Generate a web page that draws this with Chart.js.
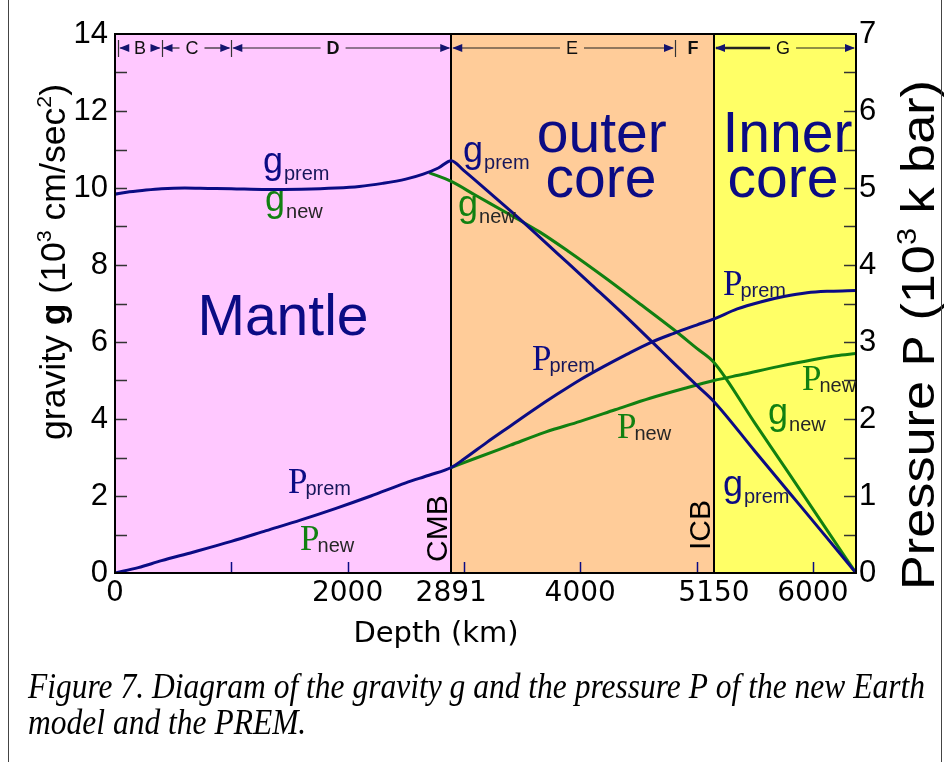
<!DOCTYPE html>
<html><head><meta charset="utf-8">
<script src="https://cdn.jsdelivr.net/npm/chart.js@4.4.0/dist/chart.umd.min.js"></script>
<style>html,body{margin:0;padding:0;background:#fff;}#wrap{width:951px;height:762px;position:relative;background:#fff}</style>
</head><body><div id="wrap"><canvas id="c" width="951" height="762"></canvas></div>
<script>
// ---------------- DATA ----------------
const gPremDepth = [0,100,250,400,600,800,1000,1300,1600,1900,2100,2300,2500,2650,2780,2891,3000,3200,3500,3800,4100,4400,4700,5000,5150,5500,5800,6100,6371];
const gPrem      = [9.84,9.89,9.94,9.98,10.00,9.99,9.98,9.96,9.97,10.00,10.04,10.12,10.23,10.36,10.52,10.71,10.45,9.93,9.14,8.31,7.48,6.64,5.76,4.88,4.45,3.17,2.08,0.99,0];

const gNewDepth  = [2700,2891,3100,3400,3650,3900,4200,4500,4800,5000,5150,5500,5800,6100,6371];
const gNew       = [10.40,10.17,9.81,9.30,8.86,8.35,7.70,7.02,6.33,5.84,5.47,3.90,2.56,1.21,0];

const pPremDepth = [0,200,400,670,1000,1300,1600,1900,2200,2500,2700,2891,3000,3200,3400,3600,3800,4000,4200,4400,4600,4800,5000,5150,5350,5550,5750,5950,6150,6371];
const pPrem      = [0,0.07,0.16,0.27,0.41,0.55,0.69,0.84,1.00,1.17,1.27,1.37,1.48,1.70,1.91,2.12,2.32,2.51,2.68,2.84,2.99,3.11,3.22,3.30,3.43,3.52,3.59,3.64,3.66,3.67];

const pNewDepth  = [2891,3100,3400,3700,4000,4300,4600,4900,5150,5400,5700,6000,6200,6371];
const pNew       = [1.37,1.49,1.66,1.83,1.97,2.12,2.27,2.40,2.50,2.58,2.68,2.77,2.82,2.85];

const xTickLabels = [0,2000,2891,4000,5150,6000];
const xMinorTicks = [1000,2000,3000,4000,5000,6000];
const depthMax = 6371;
const gMax = 14, pMax = 7;

const layers = [
  {name:'Mantle', from:0, to:2891},
  {name:'outer core', from:2891, to:5150},
  {name:'Inner core', from:5150, to:6371}
];
const zoneMarks = [28,400,1000,4815];
const zones = [
  {name:'B', from:28, to:400, at:215},
  {name:'C', from:400, to:1000, at:662},
  {name:'D', from:1000, to:2891, at:1875},
  {name:'E', from:2891, to:4815, at:3929},
  {name:'F', from:null, to:null, at:4969},
  {name:'G', from:5150, to:6371, at:5744}
];
// ---------------- STYLE ----------------
const BLUE = '#0b0b84', GREEN = '#118011';
const SANS = '"Liberation Sans", Arial, sans-serif';
const WIDE = '"DejaVu Sans", sans-serif';
const SERIF = '"Liberation Serif", "Times New Roman", serif';
const layerColors = ['#ffc8ff','#ffcc99','#ffff66'];

// series labels placed in data units (depth, gravity axis)
const seriesLabels = [
  {m:'g', s:'prem', c:BLUE, d:1272, v:10.38},
  {m:'g', s:'new',  c:GREEN, d:1290, v:9.41},
  {m:'g', s:'prem', c:BLUE, d:2992, v:10.67},
  {m:'g', s:'new',  c:GREEN, d:2949, v:9.27},
  {m:'P', s:'prem', c:BLUE, d:5227, v:7.22},
  {m:'P', s:'prem', c:BLUE, d:3585, v:5.27},
  {m:'P', s:'new',  c:GREEN, d:4316, v:3.50},
  {m:'P', s:'new',  c:GREEN, d:5907, v:4.75},
  {m:'g', s:'new',  c:GREEN, d:5615, v:3.88},
  {m:'g', s:'prem', c:BLUE, d:5227, v:2.01},
  {m:'P', s:'prem', c:BLUE, d:1487, v:2.07},
  {m:'P', s:'new',  c:GREEN, d:1591, v:0.59}
];
const bigTexts = [
  {t:'Mantle', d:1444, v:6.18},
  {t:'outer', d:4185, v:10.94},
  {t:'core', d:4179, v:9.77},
  {t:'Inner', d:5782, v:10.94},
  {t:'core', d:5743, v:9.77}
];

function pts(xs, ys){ return xs.map((x,i)=>({x:x, y:ys[i]})); }

function drawRich(ctx, pieces){
  let x = 0;
  pieces.forEach(p=>{
    ctx.font = p.f;
    ctx.fillText(p.t, x, p.dy||0);
    x += ctx.measureText(p.t).width;
  });
  return x;
}
function richWidth(ctx, pieces){
  let w=0; pieces.forEach(p=>{ctx.font=p.f; w+=ctx.measureText(p.t).width;}); return w;
}

const deco = {
  id:'deco',
  beforeDatasetsDraw(chart){
    const {ctx, chartArea:a, scales:{x, y}} = chart;
    ctx.save();
    layers.forEach((L,i)=>{
      const x0 = x.getPixelForValue(L.from), x1 = x.getPixelForValue(L.to);
      ctx.fillStyle = layerColors[i];
      ctx.fillRect(x0, a.top, x1-x0, a.bottom-a.top);
    });
    ctx.fillStyle = BLUE;
    ctx.font = '57px ' + SANS;
    ctx.textAlign = 'center';
    ctx.textBaseline = 'alphabetic';
    bigTexts.forEach(b=>ctx.fillText(b.t, x.getPixelForValue(b.d), y.getPixelForValue(b.v)));
    ctx.strokeStyle = '#000'; ctx.lineWidth = 2;
    [2891,5150].forEach(d=>{
      const px = Math.round(x.getPixelForValue(d));
      ctx.beginPath(); ctx.moveTo(px, a.top); ctx.lineTo(px, a.bottom); ctx.stroke();
    });
    ctx.fillStyle = '#000'; ctx.font = '30px ' + SANS; ctx.textAlign='left';
    [[2891,'CMB',11],[5150,'ICB',23]].forEach(([d,t,off])=>{
      ctx.save();
      ctx.translate(x.getPixelForValue(d)-4, a.bottom-off);
      ctx.rotate(-Math.PI/2);
      ctx.fillText(t,0,0);
      ctx.restore();
    });
    ctx.restore();
  },
  afterDatasetsDraw(chart){
    const {ctx, chartArea:a, scales:{x, y, y2}} = chart;
    ctx.save();
    ctx.lineWidth = 1.5;
    ctx.strokeStyle = '#333';
    for(let v=1; v<gMax; v++){
      const py = Math.round(y.getPixelForValue(v))+0.5;
      ctx.beginPath(); ctx.moveTo(a.left, py); ctx.lineTo(a.left+12, py); ctx.stroke();
    }
    for(let v=0.5; v<pMax; v+=0.5){
      const py = Math.round(y2.getPixelForValue(v))+0.5;
      ctx.beginPath(); ctx.moveTo(a.right-12, py); ctx.lineTo(a.right, py); ctx.stroke();
    }
    ctx.strokeStyle = BLUE;
    xMinorTicks.forEach(d=>{
      const px = Math.round(x.getPixelForValue(d))+0.5;
      ctx.beginPath(); ctx.moveTo(px, a.bottom-11); ctx.lineTo(px, a.bottom); ctx.stroke();
    });
    ctx.strokeStyle = '#000'; ctx.lineWidth = 2;
    ctx.strokeRect(a.left, a.top, a.right-a.left, a.bottom-a.top);
    const my = a.top + 14;
    ctx.strokeStyle = '#333'; ctx.lineWidth = 1.2;
    zoneMarks.forEach(d=>{
      const px = Math.round(x.getPixelForValue(d))+0.5;
      ctx.beginPath(); ctx.moveTo(px, my-8); ctx.lineTo(px, my+9); ctx.stroke();
    });
    function arrow(tip, dir){
      ctx.fillStyle = '#14146e';
      ctx.beginPath(); ctx.moveTo(tip, my); ctx.lineTo(tip - dir*10, my-4); ctx.lineTo(tip - dir*10, my+4); ctx.closePath(); ctx.fill();
    }
    ctx.textAlign='center'; ctx.textBaseline='middle';
    zones.forEach(z=>{
      ctx.font = ((z.name==='D'||z.name==='F')?'bold ':'') + '18px ' + SANS;
      const cx = x.getPixelForValue(z.at);
      ctx.fillStyle = '#111';
      ctx.fillText(z.name, cx, my+1);
      if(z.from===null) return;
      const w = ctx.measureText(z.name).width/2 + 6;
      const x0 = x.getPixelForValue(z.from), x1 = x.getPixelForValue(z.to);
      ctx.strokeStyle = '#222';
      ctx.lineWidth = z.name==='G' ? 2.5 : 1.2;
      ctx.beginPath(); ctx.moveTo(x0+2, my); ctx.lineTo(cx-w, my); ctx.stroke();
      ctx.lineWidth = 1.2;
      ctx.beginPath(); ctx.moveTo(cx+w, my); ctx.lineTo(x1-2, my); ctx.stroke();
      arrow(x0+1, -1); arrow(x1-1, 1);
    });
    ctx.textAlign='left'; ctx.textBaseline='alphabetic';
    seriesLabels.forEach(L=>{
      const px = x.getPixelForValue(L.d), py = y.getPixelForValue(L.v);
      const isP = L.m==='P';
      ctx.font = isP ? ('35px ' + SERIF) : ('36px ' + SANS);
      ctx.fillStyle = L.c;
      ctx.fillText(L.m, px, py);
      const w = ctx.measureText(L.m).width;
      ctx.font = '20px ' + SANS;
      ctx.fillStyle = L.s==='prem' ? '#16165a' : '#262626';
      ctx.fillText(L.s, px + w + (isP?-2:1), py + (isP?2:7));
    });
    ctx.restore();
  },
  afterDraw(chart){
    const {ctx} = chart;
    ctx.save();
    ctx.fillStyle = '#000'; ctx.textBaseline='alphabetic'; ctx.textAlign='left';
    const lp = [
      {t:'gravity ', f:'35px '+SANS},
      {t:'g', f:'bold 35px '+SANS},
      {t:' (10', f:'35px '+SANS},
      {t:'3', f:'21px '+SANS, dy:-14},
      {t:' cm/sec', f:'35px '+SANS},
      {t:'2', f:'21px '+SANS, dy:-14},
      {t:')', f:'35px '+SANS}
    ];
    let w = richWidth(ctx, lp);
    ctx.save(); ctx.translate(65, 440); ctx.rotate(-Math.PI/2); ctx.scale(356/w,1); drawRich(ctx, lp); ctx.restore();
    const rp = [
      {t:'Pressure ', f:'46px '+SANS},
      {t:'P', f:'46px "Liberation Mono", monospace'},
      {t:' (10', f:'46px '+SANS},
      {t:'3', f:'27px '+SANS, dy:-18},
      {t:' k bar)', f:'46px '+SANS}
    ];
    w = richWidth(ctx, rp);
    ctx.save(); ctx.translate(934, 590); ctx.rotate(-Math.PI/2); ctx.scale(510/w,1); drawRich(ctx, rp); ctx.restore();
    ctx.font = '29px ' + WIDE; ctx.textAlign='center';
    ctx.fillText('Depth (km)', 436, 642);
    ctx.textAlign='left';
    ctx.font = 'italic 35px ' + SERIF;
    const l1 = 'Figure 7. Diagram of the gravity g and the pressure P of the new Earth';
    const l2 = 'model and the PREM.';
    const sx = 897 / ctx.measureText(l1).width;
    ctx.save(); ctx.translate(28, 698); ctx.scale(sx,1); ctx.fillText(l1,0,0); ctx.restore();
    ctx.save(); ctx.translate(28, 734); ctx.scale(sx,1); ctx.fillText(l2,0,0); ctx.restore();
    ctx.strokeStyle = '#444'; ctx.lineWidth = 1;
    ctx.beginPath(); ctx.moveTo(8.5,0); ctx.lineTo(8.5,762); ctx.moveTo(941.5,0); ctx.lineTo(941.5,762); ctx.stroke();
    ctx.restore();
  }
};

const lineDS = (label, data, color, axis, order) => ({
  label, data, borderColor: color, borderWidth: 3, pointRadius: 0, fill:false,
  cubicInterpolationMode:'monotone', yAxisID: axis, order
});

new Chart(document.getElementById('c'), {
  type:'line',
  data:{ datasets:[
    lineDS('g PREM', pts(gPremDepth, gPrem), BLUE, 'y', 0),
    lineDS('P PREM', pts(pPremDepth, pPrem), BLUE, 'y2', 1),
    lineDS('g new', pts(gNewDepth, gNew), GREEN, 'y', 2),
    lineDS('P new', pts(pNewDepth, pNew), GREEN, 'y2', 3)
  ]},
  options:{
    responsive:false, animation:false, devicePixelRatio:1,
    layout:{padding:{top:34, left:0, right:0, bottom:0}},
    plugins:{legend:{display:false}, tooltip:{enabled:false}},
    scales:{
      x:{type:'linear', min:0, max:depthMax, position:'bottom',
        grid:{display:false, drawTicks:false}, border:{display:false},
        afterBuildTicks:(s)=>{ s.ticks = xTickLabels.map(v=>({value:v})); },
        afterFit:(s)=>{ s.height = 189; },
        ticks:{autoSkip:false, maxRotation:0, padding:4, color:'#000', font:{family:'DejaVu Sans', size:28}, callback:(v)=>String(v)}},
      y:{type:'linear', min:0, max:gMax, position:'left',
        grid:{display:false, drawTicks:false}, border:{display:false},
        afterFit:(s)=>{ s.width = 115; },
        ticks:{stepSize:2, padding:7, color:'#000', font:{family:'Liberation Sans', size:31}, callback:(v)=>String(v)}},
      y2:{type:'linear', min:0, max:pMax, position:'right',
        grid:{display:false, drawTicks:false}, border:{display:false},
        afterFit:(s)=>{ s.width = 95; },
        ticks:{stepSize:1, padding:3, color:'#000', font:{family:'Liberation Sans', size:31}, callback:(v)=>String(v)}}
    }
  },
  plugins:[deco]
});
</script></body></html>
